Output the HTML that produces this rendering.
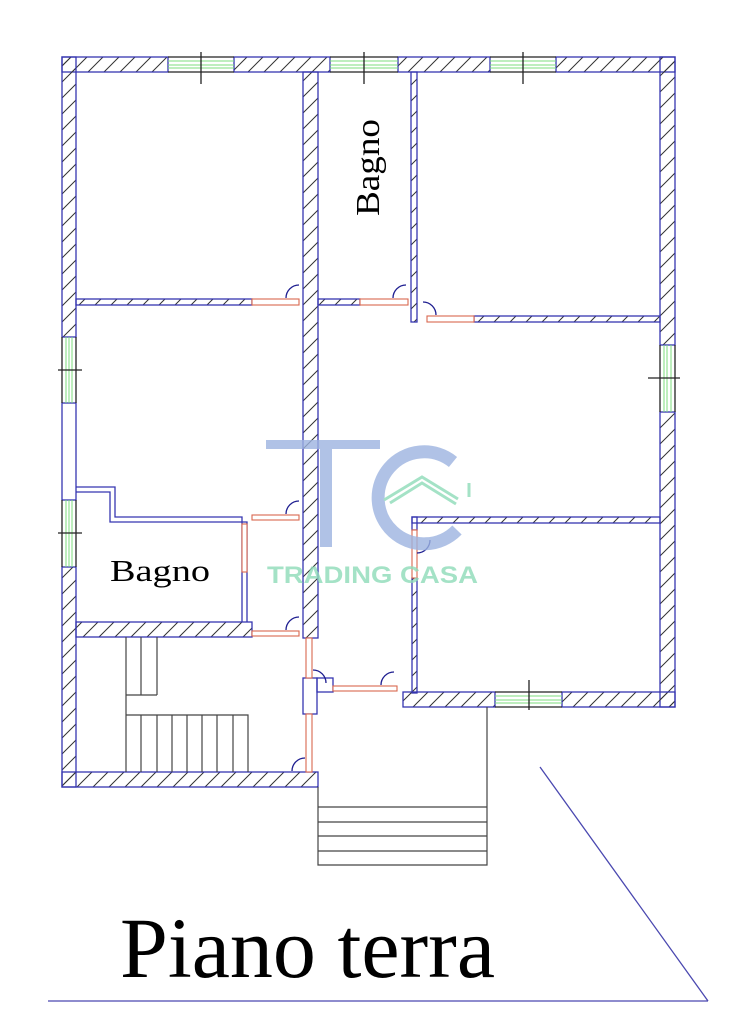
<!DOCTYPE html>
<html><head><meta charset="utf-8"><style>html,body{margin:0;padding:0;background:#fff}svg{display:block}</style></head>
<body>
<svg width="744" height="1024" viewBox="0 0 744 1024" xmlns="http://www.w3.org/2000/svg">
<defs>
<pattern id="h" patternUnits="userSpaceOnUse" width="16" height="16">
<path d="M-4,20 L20,-4 M-4,4 L4,-4 M12,20 L20,12" stroke="#333" stroke-width="1"/>
</pattern>
</defs>
<g fill="url(#h)" stroke="#3535b0" stroke-width="1.3">
<rect x="62" y="57" width="106" height="15"/>
<rect x="234" y="57" width="96" height="15"/>
<rect x="398" y="57" width="92" height="15"/>
<rect x="556" y="57" width="119" height="15"/>
<rect x="62" y="57" width="14" height="280"/>
<rect x="62" y="567" width="14" height="220"/>
<rect x="62" y="772" width="256" height="15"/>
<rect x="660" y="57" width="15" height="288"/>
<rect x="660" y="412" width="15" height="295"/>
<rect x="303" y="72" width="15" height="566"/>
<rect x="411" y="72" width="6" height="250"/>
<rect x="76" y="299" width="176" height="6"/>
<rect x="318" y="299" width="42" height="6"/>
<rect x="474" y="316" width="186" height="6"/>
<rect x="412" y="517" width="248" height="6"/>
<rect x="412" y="578" width="5" height="115"/>
<rect x="76" y="622" width="176" height="15"/>
<rect x="403" y="692" width="92" height="15"/>
<rect x="562" y="692" width="113" height="15"/>
</g>
<g fill="none" stroke="#3535b0" stroke-width="1.3">
<rect x="62" y="403" width="14" height="97"/>
<path d="M76,487 H115 V517 H242 V622 M76,492 H110 V522 H247 V622"/>
<rect x="412" y="517" width="5" height="13"/>
<rect x="303" y="678" width="14" height="36"/>
<rect x="317" y="678" width="16" height="14"/>
</g>
<g stroke="#7ddc7d" stroke-width="1">
<path d="M168,61 H234 M168,65 H234 M168,68 H234"/>
<path d="M330,61 H398 M330,65 H398 M330,68 H398"/>
<path d="M490,61 H556 M490,65 H556 M490,68 H556"/>
<path d="M66,337 V403 M69,337 V403 M72,337 V403"/>
<path d="M66,500 V567 M69,500 V567 M72,500 V567"/>
<path d="M664,345 V412 M667,345 V412 M671,345 V412"/>
<path d="M495,696 H562 M495,700 H562 M495,703 H562"/>
</g>
<g stroke="#222" stroke-width="1.3">
<path d="M168,57 H234 M168,72 H234 M201,52 V84"/>
<path d="M330,57 H398 M330,72 H398 M364,52 V84"/>
<path d="M490,57 H556 M490,72 H556 M523,52 V84"/>
<path d="M62,337 V403 M76,337 V403 M58,370 H82"/>
<path d="M62,500 V567 M76,500 V567 M58,533 H82"/>
<path d="M660,345 V412 M675,345 V412 M648,378 H680"/>
<path d="M495,692 H562 M495,707 H562 M529,680 V710"/>
</g>
<g fill="#fff" stroke="#d9674f" stroke-width="1.1">
<rect x="252" y="299" width="47" height="6"/>
<rect x="360" y="299" width="48" height="6"/>
<rect x="427" y="316" width="47" height="6"/>
<rect x="252" y="515" width="47" height="5"/>
<rect x="242" y="524" width="5" height="48"/>
<rect x="252" y="631" width="47" height="5"/>
<rect x="412" y="530" width="5" height="48"/>
<rect x="306" y="638" width="6" height="40"/>
<rect x="306" y="714" width="6" height="58"/>
<rect x="333" y="686" width="64" height="5"/>
</g>
<g fill="none" stroke="#1e1e90" stroke-width="1.3">
<path d="M286,298 A13,13 0 0 1 299,285"/>
<path d="M393,298 A13,13 0 0 1 406,285"/>
<path d="M427,315 A13,13 0 0 1 440,328" transform="translate(-4,-13)"/>
<path d="M286,514 A13,13 0 0 1 299,501"/>
<path d="M286,630 A13,13 0 0 1 299,617"/>
<path d="M430,540 A13,13 0 0 1 417,553"/>
<path d="M313,670 A13,13 0 0 1 326,683"/>
<path d="M381,685 A13,13 0 0 1 394,672"/>
<path d="M292,771 A13,13 0 0 1 305,758"/>
</g>
<g fill="none" stroke="#444" stroke-width="1.2">
<path d="M126,637 V772 M141,637 V695 M157,637 V695 M126,695 H157"/>
<path d="M126,715 H248 V772 M141,715 V772 M157,715 V772 M172,715 V772 M187,715 V772 M202,715 V772 M217,715 V772 M233,715 V772"/>
<path d="M318,787 V865 H487 V707 M318,807 H487 M318,822 H487 M318,836 H487 M318,851 H487"/>
</g>
<path d="M540,767 L708,1001 M48,1001 H708" stroke="#4a48b0" stroke-width="1.3" fill="none"/>
<g opacity="0.8">
<rect x="266" y="440" width="114" height="9" fill="#9db4e0"/>
<rect x="320" y="440" width="12" height="107" fill="#9db4e0"/>
<path d="M453,462 A46,46 0 1 0 457,530" fill="none" stroke="#9db4e0" stroke-width="13"/>
<path d="M384,500 L422,477 L458,499 M390,503 L422,483 L456,504 M469,483 V497" fill="none" stroke="#8edcb8" stroke-width="3"/>
<text x="267" y="583" font-family="Liberation Sans, sans-serif" font-weight="bold" font-size="24" fill="#8edcb8" textLength="211" lengthAdjust="spacingAndGlyphs">TRADING CASA</text>
</g>
<text x="0" y="0" transform="translate(379,216) rotate(-90)" font-family="Liberation Serif, serif" font-size="34" fill="#000" textLength="97" lengthAdjust="spacingAndGlyphs">Bagno</text>
<text x="110" y="581" font-family="Liberation Serif, serif" font-size="31" fill="#000" textLength="100" lengthAdjust="spacingAndGlyphs">Bagno</text>
<text x="120" y="977" font-family="Liberation Serif, serif" font-size="86" fill="#000" textLength="375" lengthAdjust="spacingAndGlyphs">Piano terra</text>
</svg>
</body></html>
